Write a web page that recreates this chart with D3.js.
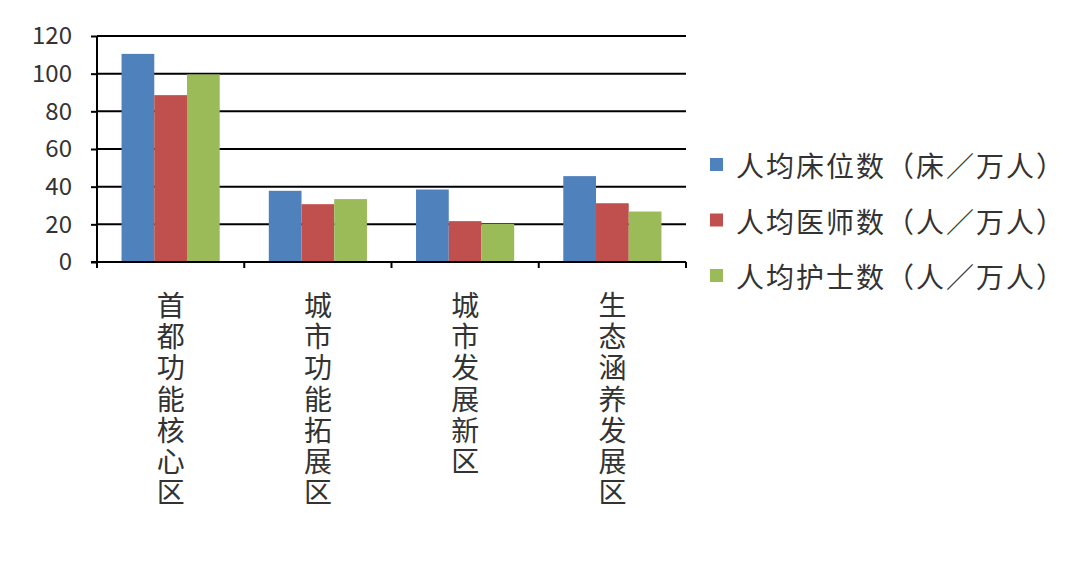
<!DOCTYPE html>
<html>
<head>
<meta charset="utf-8">
<script src="https://cdn.jsdelivr.net/npm/d3@7"></script>
<style>
  body { margin: 0; background: #fff; }
</style>
</head>
<body>
<div id="chart"></div>
<script>
// data
var categories = ["首都功能核心区", "城市功能拓展区", "城市发展新区", "生态涵养发展区"];
var seriesNames = ["人均床位数（床／万人）", "人均医师数（人／万人）", "人均护士数（人／万人）"];
var beds = [110.5, 37.8, 38.5, 45.6];
var doctors = [88.6, 30.7, 21.7, 31.2];
var nurses = [99.6, 33.4, 20.2, 26.8];
var yTicks = [0, 20, 40, 60, 80, 100, 120];
var colors = ["#4F81BD", "#C0504D", "#9BBB59"];

var seriesValues = [beds, doctors, nurses];

var svg = d3.select("#chart")
    .append("svg")
    .attr("width", 1080)
    .attr("height", 561);

var plotLeft = 97, plotRight = 686, plotTop = 36, plotBottom = 262;

var x0 = d3.scaleBand().domain(categories).range([plotLeft, plotRight]).padding(0);
var step = x0.bandwidth();
var x1 = d3.scaleBand().domain(d3.range(seriesNames.length))
    .range([step / 6, step * 5 / 6]);
var y = d3.scaleLinear().domain([0, 120]).range([plotBottom, plotTop]);

var font = "'Noto Sans CJK SC', 'DejaVu Sans', sans-serif";

// gridlines
svg.append("g")
    .selectAll("line")
    .data(yTicks.filter(function (d) { return d > 0; }))
    .enter()
    .append("line")
    .attr("x1", plotLeft)
    .attr("x2", plotRight)
    .attr("y1", function (d) { return y(d); })
    .attr("y2", function (d) { return y(d); })
    .style("stroke", "#000")
    .style("stroke-width", 2);

// bars
var groups = svg.append("g")
    .selectAll("g")
    .data(categories)
    .enter()
    .append("g")
    .attr("transform", function (d) { return "translate(" + x0(d) + ",0)"; });

groups.selectAll("rect")
    .data(function (d, i) {
        return seriesValues.map(function (s, k) { return { k: k, v: s[i] }; });
    })
    .enter()
    .append("rect")
    .attr("x", function (d) { return x1(d.k); })
    .attr("width", x1.bandwidth())
    .attr("y", function (d) { return y(d.v); })
    .attr("height", function (d) { return plotBottom - y(d.v); })
    .style("fill", function (d) { return colors[d.k]; });

// left axis
var yAxis = svg.append("g")
    .attr("transform", "translate(" + plotLeft + ",0)")
    .call(d3.axisLeft(y).tickValues(yTicks).tickSize(6).tickPadding(10));
yAxis.select(".domain").style("stroke", "#000").style("stroke-width", 2)
    .attr("d", "M0," + plotBottom + "V" + plotTop);
yAxis.selectAll(".tick line").style("stroke", "#000").style("stroke-width", 2);
yAxis.selectAll(".tick text")
    .style("font-family", font)
    .style("font-size", "24px")
    .style("fill", "#333")
    .attr("x", -25);

// bottom axis with boundary ticks
var xAxis = svg.append("g");
xAxis.append("line")
    .attr("x1", plotLeft - 6).attr("x2", plotRight)
    .attr("y1", plotBottom).attr("y2", plotBottom)
    .style("stroke", "#000").style("stroke-width", 2);
var bounds = categories.map(function (d) { return x0(d); }).concat([plotRight]);
xAxis.selectAll(".bt")
    .data(bounds)
    .enter()
    .append("line")
    .attr("class", "bt")
    .attr("x1", function (d) { return d; })
    .attr("x2", function (d) { return d; })
    .attr("y1", plotBottom)
    .attr("y2", plotBottom + 6)
    .style("stroke", "#000").style("stroke-width", 2);

// vertical category labels, one character per line
var labelGroups = svg.append("g")
    .selectAll("g")
    .data(categories)
    .enter()
    .append("g")
    .attr("transform", function (d) { return "translate(" + (x0(d) + step / 2) + ",292)"; });
labelGroups.selectAll("text")
    .data(function (d) { return d.split(""); })
    .enter()
    .append("text")
    .attr("x", 0)
    .attr("y", function (d, i) { return i * 31.2; })
    .attr("dy", "0.86em")
    .attr("text-anchor", "middle")
    .style("font-family", font)
    .style("font-size", "28px")
    .style("fill", "#333")
    .text(function (d) { return d; });

// legend
var legend = svg.append("g")
    .selectAll("g")
    .data(seriesNames)
    .enter()
    .append("g")
    .attr("transform", function (d, i) { return "translate(710," + (165 + i * 55.5) + ")"; });
legend.append("rect")
    .attr("x", 0).attr("y", -7)
    .attr("width", 13).attr("height", 13)
    .style("fill", function (d, i) { return colors[i]; });
legend.append("text")
    .attr("x", 26)
    .attr("y", 0)
    .attr("dominant-baseline", "central")
    .style("font-family", font)
    .style("font-size", "28px")
    .style("letter-spacing", "2px")
    .style("fill", "#333")
    .text(function (d) { return d; });
</script>
</body>
</html>
